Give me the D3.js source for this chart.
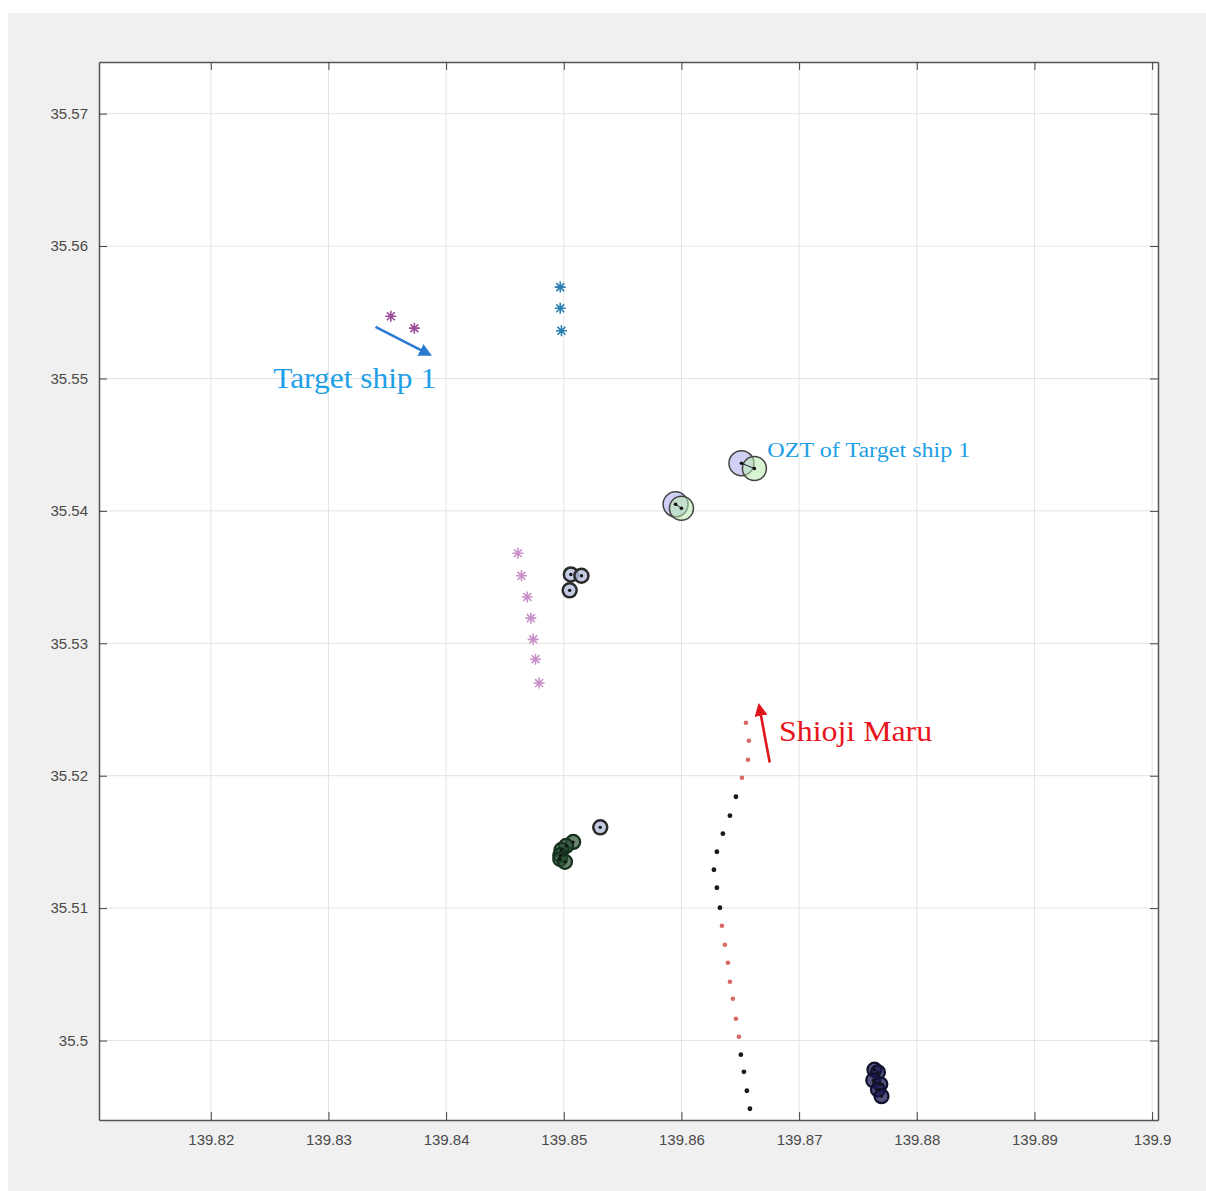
<!DOCTYPE html>
<html><head><meta charset="utf-8">
<script src="https://cdn.jsdelivr.net/npm/d3@7"></script>
<style>body{margin:0;background:#fff;} svg{display:block;}</style>
</head><body>
<svg id="chart" width="1206" height="1191"></svg>
<script>
// ---- data (lon, lat) ----
const xTicks = [139.82,139.83,139.84,139.85,139.86,139.87,139.88,139.89,139.9];
const yTicks = [35.50,35.51,35.52,35.53,35.54,35.55,35.56,35.57];
const xTickLabels = ["139.82","139.83","139.84","139.85","139.86","139.87","139.88","139.89","139.9"];
const yTickLabels = ["35.5","35.51","35.52","35.53","35.54","35.55","35.56","35.57"];

const cyanStars = [[139.8497,35.5569],[139.8497,35.5553],[139.8498,35.5536]];
const purpleStarsTop = [[139.8353,35.5547],[139.8373,35.5538]];
const purpleStarsCol = [[139.8461,35.5368],[139.8464,35.5351],[139.8469,35.5335],[139.8472,35.5319],[139.8474,35.5303],[139.8476,35.5288],[139.8479,35.5270]];

// OZT of target ship 1 (blue / green pairs)
const oztBlue = [[139.8595,35.5405],[139.8651,35.5436]];
const oztGreen = [[139.8600,35.5402],[139.8662,35.5432]];

const smallOztA = [[139.8506,35.5352],[139.8515,35.5351],[139.8505,35.5340]];
const smallOztB = [[139.8531,35.5161]];
const clusterGreen = [[139.8508,35.5150],[139.8502,35.5147],[139.8498,35.5144],[139.8497,35.5140],[139.8497,35.5137],[139.8501,35.5135]];
const clusterNavy = [[139.8764,35.4978],[139.8767,35.4976],[139.8763,35.4970],[139.8769,35.4967],[139.8767,35.4963],[139.8770,35.4958]];

const shiojiLon = [139.86548,139.86573,139.86565,139.86514,139.86463,139.86412,139.86352,139.86301,139.86276,139.86301,139.86327,139.86344,139.86369,139.86395,139.86412,139.86437,139.86463,139.86488,139.86505,139.86531,139.86556,139.86582];
const shiojiLat = [35.52400,35.52264,35.52121,35.51985,35.51841,35.51698,35.51562,35.51426,35.51290,35.51154,35.51003,35.50867,35.50724,35.50588,35.50444,35.50316,35.50165,35.50029,35.49893,35.49764,35.49621,35.49485];
const shiojiKind = ["r","r","r","r","k","k","k","k","k","k","k","r","r","r","r","r","r","r","k","k","k","k"];

const blueArrow = [[139.8340,35.5539],[139.8386,35.5518]];
const redArrow = [[139.8675,35.5210],[139.8666,35.5253]];
const labels = [
  {text:"Target ship 1", at:[139.8253,35.5493], size:30, width:163, color:"#1ea0e6"},
  {text:"OZT of Target ship 1", at:[139.8673,35.5441], size:20, width:203, color:"#1ea0e6"},
  {text:"Shioji Maru", at:[139.8683,35.5226], size:30, width:153, color:"#e8141b"}
];

// ---- drawing ----
const svg = d3.select("#chart");
const L=99, R=1158, T=62, B=1120;
const x = d3.scaleLinear().domain([139.8105,139.9005]).range([L,R]);
const y = d3.scaleLinear().domain([35.4940,35.5739]).range([B,T]);

svg.append("rect").attr("x",8).attr("y",13).attr("width",1198).attr("height",1178).attr("fill","#f0f0f0");
svg.append("rect").attr("x",L).attr("y",T).attr("width",R-L).attr("height",B-T).attr("fill","#fff");

// grid
const g = svg.append("g");
g.selectAll("line.gx").data(xTicks).join("line").attr("x1",d=>x(d)).attr("x2",d=>x(d)).attr("y1",T).attr("y2",B).attr("stroke","#e3e3e3").attr("stroke-width",1);
g.selectAll("line.gy").data(yTicks).join("line").attr("y1",d=>y(d)).attr("y2",d=>y(d)).attr("x1",L).attr("x2",R).attr("stroke","#e3e3e3").attr("stroke-width",1);

// axes
const fmtX = d=>xTickLabels[xTicks.indexOf(d)];
const fmtY = d=>yTickLabels[yTicks.indexOf(d)];
function styleAxis(sel){
  sel.select(".domain").attr("stroke","#555").attr("stroke-width",1.5);
  sel.selectAll(".tick line").attr("stroke","#444");
  sel.selectAll(".tick text").attr("fill","#4a4a4a").style("font-family","Liberation Sans, Arial, sans-serif").style("font-size","15px");
}
svg.append("g").attr("transform",`translate(0,${B})`).call(d3.axisBottom(x).tickValues(xTicks).tickFormat(fmtX).tickSizeInner(-8).tickSizeOuter(0).tickPadding(14)).call(styleAxis);
svg.append("g").attr("transform",`translate(0,${T})`).call(d3.axisTop(x).tickValues(xTicks).tickFormat("").tickSizeInner(-8).tickSizeOuter(0)).call(styleAxis);
svg.append("g").attr("transform",`translate(${L},0)`).call(d3.axisLeft(y).tickValues(yTicks).tickFormat(fmtY).tickSizeInner(-8).tickSizeOuter(0).tickPadding(11)).call(styleAxis);
svg.append("g").attr("transform",`translate(${R},0)`).call(d3.axisRight(y).tickValues(yTicks).tickFormat("").tickSizeInner(-8).tickSizeOuter(0)).call(styleAxis);

// asterisk markers
function star(sel, data, color){
  const s=5.5, d2=s*0.72;
  sel.selectAll(null).data(data).join("path")
    .attr("d",d=>{const cx=x(d[0]),cy=y(d[1]);
      return `M${cx-s},${cy}L${cx+s},${cy}M${cx},${cy-s}L${cx},${cy+s}M${cx-d2},${cy-d2}L${cx+d2},${cy+d2}M${cx-d2},${cy+d2}L${cx+d2},${cy-d2}`;})
    .attr("stroke",color).attr("stroke-width",1.6).attr("fill","none");
}
const mk = svg.append("g");
star(mk, cyanStars, "#2a7fb0");
star(mk, purpleStarsTop, "#9a4c98");
star(mk, purpleStarsCol, "#c890c8");

// OZT circles
function circles(sel, data, r, fill, stroke, sw){
  sel.selectAll(null).data(data).join("circle").attr("cx",d=>x(d[0])).attr("cy",d=>y(d[1])).attr("r",r)
    .attr("fill",fill).attr("stroke",stroke).attr("stroke-width",sw);
}
function dots(sel, data, r, color){
  sel.selectAll(null).data(data).join("circle").attr("cx",d=>x(d[0])).attr("cy",d=>y(d[1])).attr("r",r).attr("fill",color);
}
const oz = svg.append("g");
circles(oz, oztBlue, 12.5, "rgba(170,170,240,0.55)", "#444", 1.5);
circles(oz, oztGreen, 12, "rgba(185,235,175,0.55)", "#444", 1.5);
oz.selectAll(null).data(d3.range(oztBlue.length)).join("line")
  .attr("x1",i=>x(oztBlue[i][0])).attr("y1",i=>y(oztBlue[i][1])).attr("x2",i=>x(oztGreen[i][0])).attr("y2",i=>y(oztGreen[i][1]))
  .attr("stroke","#223").attr("stroke-width",1);
dots(oz, oztBlue, 1.8, "#111");
dots(oz, oztGreen, 1.8, "#111");

circles(oz, smallOztA, 7, "rgba(180,190,220,0.8)", "#2a2a2a", 2.5);
dots(oz, smallOztA, 1.7, "#111");
circles(oz, smallOztB, 7, "rgba(180,190,220,0.8)", "#2a2a2a", 2.5);
dots(oz, smallOztB, 1.7, "#111");
circles(oz, clusterGreen, 7, "rgba(40,80,50,0.7)", "#15301d", 2.2);
dots(oz, clusterGreen, 1.5, "#111");
circles(oz, clusterNavy, 7, "rgba(25,25,80,0.75)", "#12122e", 2.2);
dots(oz, clusterNavy, 1.5, "#111");

// Shioji Maru track
const sh = svg.append("g");
sh.selectAll(null).data(d3.range(shiojiLon.length)).join("circle")
  .attr("cx",i=>x(shiojiLon[i])).attr("cy",i=>y(shiojiLat[i])).attr("r",i=>shiojiKind[i]==="r"?2.3:2.4)
  .attr("fill",i=>shiojiKind[i]==="r"?"#d86a64":"#1a1a1a");

// arrows
const defs = svg.append("defs");
function marker(id,color){
  defs.append("marker").attr("id",id).attr("viewBox","0 0 10 10").attr("refX",8).attr("refY",5)
    .attr("markerWidth",5).attr("markerHeight",5).attr("orient","auto").attr("markerUnits","strokeWidth")
    .append("path").attr("d","M0,0L10,5L0,10z").attr("fill",color);
}
marker("ab","#2a7ad0");
marker("ar","#e0141b");
svg.append("line").attr("x1",x(blueArrow[0][0])).attr("y1",y(blueArrow[0][1])).attr("x2",x(blueArrow[1][0])).attr("y2",y(blueArrow[1][1]))
  .attr("stroke","#2a7ad0").attr("stroke-width",2.6).attr("marker-end","url(#ab)");
svg.append("line").attr("x1",x(redArrow[0][0])).attr("y1",y(redArrow[0][1])).attr("x2",x(redArrow[1][0])).attr("y2",y(redArrow[1][1]))
  .attr("stroke","#e0141b").attr("stroke-width",2.6).attr("marker-end","url(#ar)");

// labels
svg.selectAll("text.lbl").data(labels).join("text").attr("class","lbl")
  .attr("x",d=>x(d.at[0])).attr("y",d=>y(d.at[1])).text(d=>d.text)
  .attr("textLength",d=>d.width).attr("lengthAdjust","spacingAndGlyphs")
  .attr("fill",d=>d.color).style("font-size",d=>d.size+"px")
  .style("font-family","Liberation Serif, 'Times New Roman', serif");
</script>
</body></html>
